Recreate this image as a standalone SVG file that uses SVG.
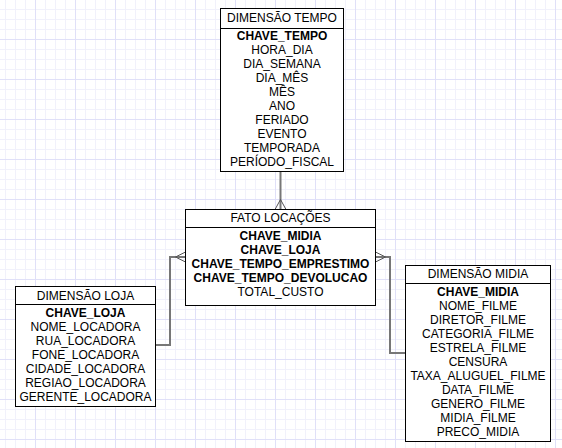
<svg xmlns="http://www.w3.org/2000/svg" width="562" height="448" viewBox="0 0 562 448">
<defs>
<pattern id="minor" width="10" height="10" patternUnits="userSpaceOnUse" x="5" y="9">
<path d="M0.5,0 V10 M0,0.5 H10" fill="none" stroke="#f1f1fb" stroke-width="1"/>
</pattern>
<pattern id="major" width="40" height="40" patternUnits="userSpaceOnUse" x="35" y="39">
<path d="M0.5,0 V40 M0,0.5 H40" fill="none" stroke="#e0e0f8" stroke-width="1"/>
</pattern>
</defs>
<style>
.box{fill:#ffffff;stroke:#000000;stroke-width:1}
.sep{stroke:#000000;stroke-width:1}
text{font-family:"Liberation Sans",Arial,sans-serif;font-size:12px;fill:#000000;text-anchor:middle}
.k{font-weight:bold}
.edge{fill:none;stroke:#777777;stroke-width:2}
.foot{fill:none;stroke:#555555;stroke-width:1}
</style>
<rect width="562" height="448" fill="#ffffff"/>
<rect width="562" height="448" fill="url(#minor)"/>
<rect width="562" height="448" fill="url(#major)"/>

<g id="connectors">
<path class="edge" d="M280.5,171.5 V209.5"/>
<path class="foot" d="M275,209.5 L280.5,199.5 L286,209.5"/>
<path class="edge" d="M155.5,345 H170 V257 H185.5"/>
<path class="foot" d="M185.5,252 L175.5,257 L185.5,262"/>
<path class="edge" d="M405.5,353 H390 V257 H375.5"/>
<path class="foot" d="M375.5,252 L385.5,257 L375.5,262"/>
</g>

<g id="dim-tempo">
<rect class="box" x="220.5" y="8.5" width="123" height="163"/>
<line class="sep" x1="220.5" y1="28.5" x2="343.5" y2="28.5"/>
<text x="282" y="22">DIMENSÃO TEMPO</text>
<text class="k" x="282" y="40">CHAVE_TEMPO</text>
<text x="282" y="54">HORA_DIA</text>
<text x="282" y="68">DIA_SEMANA</text>
<text x="282" y="82">DIA_MÊS</text>
<text x="282" y="96">MÊS</text>
<text x="282" y="110">ANO</text>
<text x="282" y="124">FERIADO</text>
<text x="282" y="138">EVENTO</text>
<text x="282" y="152">TEMPORADA</text>
<text x="282" y="166">PERÍODO_FISCAL</text>
</g>

<g id="fato-locacoes">
<rect class="box" x="185.5" y="209.5" width="190" height="96"/>
<line class="sep" x1="185.5" y1="227.5" x2="375.5" y2="227.5"/>
<text x="280.5" y="222">FATO LOCAÇÕES</text>
<text class="k" x="280.5" y="240">CHAVE_MIDIA</text>
<text class="k" x="280.5" y="254">CHAVE_LOJA</text>
<text class="k" x="280.5" y="268">CHAVE_TEMPO_EMPRESTIMO</text>
<text class="k" x="280.5" y="282">CHAVE_TEMPO_DEVOLUCAO</text>
<text x="280.5" y="296">TOTAL_CUSTO</text>
</g>

<g id="dim-loja">
<rect class="box" x="15.5" y="286.5" width="140" height="120"/>
<line class="sep" x1="15.5" y1="304.5" x2="155.5" y2="304.5"/>
<text x="85.5" y="299.5">DIMENSÃO LOJA</text>
<text class="k" x="85.5" y="316.5">CHAVE_LOJA</text>
<text x="85.5" y="330.5">NOME_LOCADORA</text>
<text x="85.5" y="344.5">RUA_LOCADORA</text>
<text x="85.5" y="358.5">FONE_LOCADORA</text>
<text x="85.5" y="372.5">CIDADE_LOCADORA</text>
<text x="85.5" y="386.5">REGIAO_LOCADORA</text>
<text x="85.5" y="400.5">GERENTE_LOCADORA</text>
</g>

<g id="dim-midia">
<rect class="box" x="405.5" y="265.5" width="145" height="176"/>
<line class="sep" x1="405.5" y1="283.5" x2="550.5" y2="283.5"/>
<text x="478" y="277.5">DIMENSÃO MIDIA</text>
<text class="k" x="478" y="296">CHAVE_MIDIA</text>
<text x="478" y="310">NOME_FILME</text>
<text x="478" y="324">DIRETOR_FILME</text>
<text x="478" y="338">CATEGORIA_FILME</text>
<text x="478" y="352">ESTRELA_FILME</text>
<text x="478" y="366">CENSURA</text>
<text x="478" y="380">TAXA_ALUGUEL_FILME</text>
<text x="478" y="394">DATA_FILME</text>
<text x="478" y="408">GENERO_FILME</text>
<text x="478" y="422">MIDIA_FILME</text>
<text x="478" y="436">PRECO_MIDIA</text>
</g>
</svg>
